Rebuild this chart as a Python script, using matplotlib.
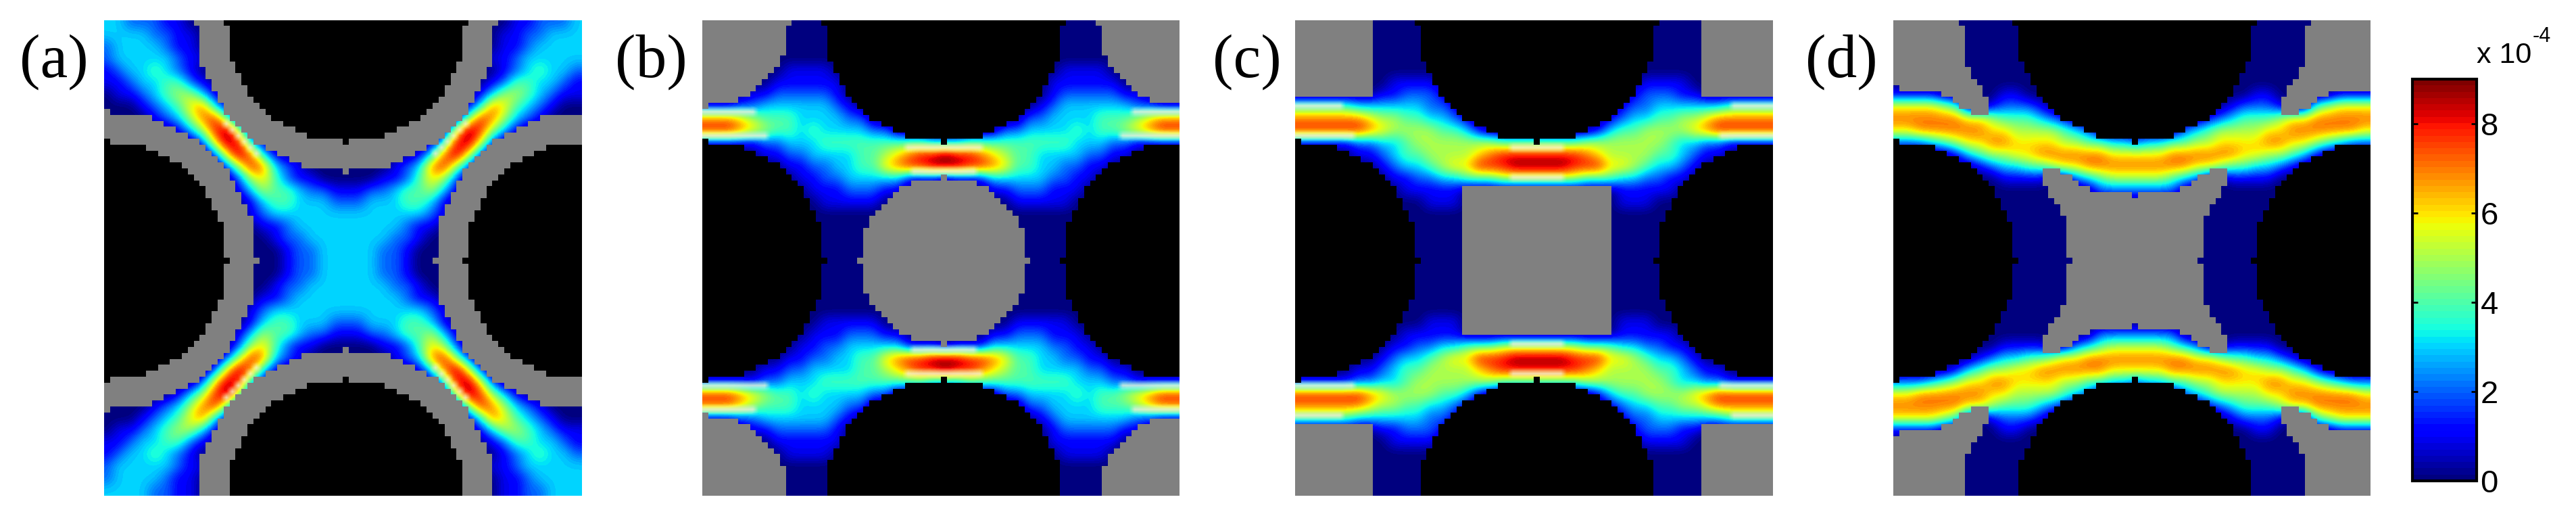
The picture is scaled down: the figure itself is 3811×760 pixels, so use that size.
#Four field maps (a)-(d) with one shared jet colorbar.
#Field values are read by eye on every second cell of the top-left quarter,
#in units of 1e-4, and mirrored to the whole 80x80 cell panel.

import numpy as np
import matplotlib
matplotlib.use('Agg')
import matplotlib.pyplot as plt
from matplotlib.colors import ListedColormap

panel_labels = ['(a)', '(b)', '(c)', '(d)']
colorbar_ticks = [0, 2, 4, 6, 8]

values_a = [
    '332221100000000000000', '333322110000000000000', '233332110000000000000',
    '233333211000000000000', '123343210000000000000', '112334421000000000000',
    '011234553100000000000', '000123467310000000000', '000012357841000000000',
    '000000135895100000000', '000000002698310000000', '000000000269731000000',
    '000000000025873210000', '000000000002564211000', '000000000001354432211',
    '000000000000134433322', '000000000000123333333', '000000000000011233333',
    '000000000000001223333', '000000000000000122333', '000000000000000122333',
]
values_b = [
    '000000000000000000000', '000000000000000000000', '000000000000000000000',
    '000000000000000000000', '000000011110000000000', '000000111111000000000',
    '000011222221000000000', '111223333332100000000', '777654443333220000000',
    '888765443433332200000', '111112233344444444433', '000001122333344567889',
    '000000011223344678899', '000000001122333331110', '000000000111222110000',
    '000000000011111000000', '000000000000000000000', '000000000000000000000',
    '000000000000000000000', '000000000000000000000', '000000000000000000000',
]
values_c = [
    '000000000000000000000', '000000000000000000000', '000000000000000000000',
    '000000000000000000000', '000000000000000000000', '000000001111000000000',
    '000000011222100000000', '444443333332210000000', '777777655443321000000',
    '888888765555443100000', '111112233455555554444', '000001123445555678888',
    '000000012334566888999', '000000001122334445555', '000000000111110000000',
    '000000000001110000000', '000000000000000000000', '000000000000000000000',
    '000000000000000000000', '000000000000000000000', '000000000000000000000',
]
values_d = [
    '000000000000000000000', '000000000000000000000', '000000000000000000000',
    '000000000000000000000', '000000000000000000000', '000000000000000000000',
    '111100000110000000000', '666654001222100000000', '777777665444321000000',
    '667777776655554320000', '222345667766665544332', '000001345566777777666',
    '000000012334456677777', '000000000111100234555', '000000000000000002222',
    '000000000000000000000', '000000000000000000000', '000000000000000000000',
    '000000000000000000000', '000000000000000000000', '000000000000000000000',
]

#half widths of the drawn shapes, row by row away from the shape centre (in cells)
hole_widths = [20, 19, 19, 19, 19, 19, 19, 18, 18, 17, 17, 16, 16, 15, 14, 13, 12, 10, 8, 6, 0]
ring_widths = [25, 24, 24, 24, 24, 24, 24, 24, 23, 23, 22, 22, 21, 21, 20, 20, 19, 18, 17, 16, 15, 13, 11, 9, 7, 0]
rod_widths = [14, 13, 13, 13, 13, 13, 12, 12, 11, 10, 9, 8, 7, 5, 0]
square_widths = [12] * 13
star_widths = [10, 11, 11, 11, 11, 11, 11, 11, 12, 12, 13, 14, 14, 15, 15, 15]

#pale stripes next to the hot spots: (row, first column, last column)
pale_a = [(17, 20, 20), (18, 21, 21), (19, 22, 22), (20, 23, 23), (21, 24, 24), (22, 25, 25)]
pale_b = [(15, 0, 8), (19, 0, 10), (21, 34, 40), (25, 35, 40)]
pale_c = [(14, 0, 7), (19, 0, 9), (21, 36, 40), (26, 36, 40)]
pale_d = []

N = 80
W, H = 3812, 760
GRAY = 1
BLACK = 2

plt.rcParams['font.family'] = ['Liberation Sans', 'DejaVu Sans']


def stamp(mask, row0, col0, widths, code):
    for dy, w in enumerate(widths):
        cols = np.arange(col0 - w, col0 + w + 1) % N
        mask[(row0 - dy) % N, cols] = code
        mask[(row0 + dy) % N, cols] = code


def stamp_star(mask, row0, col0, widths, code):
    for dy in range(len(widths)):
        for dx in range(len(widths)):
            if dx <= widths[dy] and dy <= widths[dx]:
                for sy in (-1, 1):
                    for sx in (-1, 1):
                        mask[(row0 + sy * dy) % N, (col0 + sx * dx) % N] = code


def add_holes(mask):
    stamp(mask, 0, 40, hole_widths, BLACK)
    stamp(mask, 40, 0, hole_widths, BLACK)


def full_values(rows):
    q = np.array([[int(ch) for ch in row] for row in rows], dtype=float)
    q = np.vstack([q, q[-2:0:-1]])
    return np.hstack([q, q[:, -2:0:-1]])


def px_axes(x0, y0, x1, y1):
    return fig.add_axes([x0 / W, 1 - y1 / H, (x1 - x0) / W, (y1 - y0) / H])


mask_a = np.zeros((N, N), dtype=int)
stamp(mask_a, 0, 40, ring_widths, GRAY)
stamp(mask_a, 40, 0, ring_widths, GRAY)
add_holes(mask_a)

mask_b = np.zeros((N, N), dtype=int)
stamp(mask_b, 40, 40, rod_widths, GRAY)
stamp(mask_b, 0, 0, rod_widths, GRAY)
add_holes(mask_b)

mask_c = np.zeros((N, N), dtype=int)
stamp(mask_c, 40, 40, square_widths, GRAY)
stamp(mask_c, 0, 0, square_widths, GRAY)
add_holes(mask_c)

mask_d = np.zeros((N, N), dtype=int)
stamp_star(mask_d, 40, 40, star_widths, GRAY)
stamp_star(mask_d, 0, 0, star_widths, GRAY)
add_holes(mask_d)

panels = [
    (values_a, mask_a, pale_a, (154, 30, 861, 733), 29),
    (values_b, mask_b, pale_b, (1039, 30, 1745, 733), 910),
    (values_c, mask_c, pale_c, (1916, 30, 2623, 733), 1794),
    (values_d, mask_d, pale_d, (2801, 30, 3507, 733), 2671),
]

jet = plt.get_cmap('jet', 64)
mask_cmap = ListedColormap(['#808080', '#000000'])

fig = plt.figure(figsize=(W / 100, H / 100), dpi=100)

for label, (rows, mask, pale, box, label_x) in zip(panel_labels, panels):
    ax = px_axes(*box)
    im = ax.imshow(full_values(rows), cmap=jet, vmin=0, vmax=9, interpolation='bicubic',
                   extent=(-0.5, N, N, -0.5), aspect='auto')

    #pale stripes, mirrored into all four quarters
    stripes = np.zeros((N, N, 4))
    stripes[..., :3] = (0.96, 0.93, 0.85)
    for row, c0, c1 in pale:
        for col in range(c0, c1 + 1):
            for r in (row, N - row):
                for c in (col, (N - col) % N):
                    stripes[r, c, 3] = 0.8
    ax.imshow(stripes, interpolation='bilinear', extent=(0, N, N, 0), aspect='auto')

    shapes = np.ma.masked_where(mask == 0, mask)
    ax.imshow(shapes, cmap=mask_cmap, vmin=GRAY, vmax=BLACK, interpolation='nearest',
              extent=(0, N, N, 0), aspect='auto')
    ax.set_xlim(0, N)
    ax.set_ylim(N, 0)
    ax.axis('off')

    fig.text(label_x / W, 1 - 114 / H, label, family='Liberation Serif', fontsize=66,
             ha='left', va='baseline', color='black')

cax = px_axes(3569, 117, 3664, 711)
cbar = fig.colorbar(im, cax=cax, ticks=colorbar_ticks)
cbar.outline.set_linewidth(3)
cax.tick_params(left=True, right=True, direction='in', length=6, width=2, labelsize=34, pad=4)

fig.text(3664 / W, 1 - 93 / H, 'x 10', fontsize=31, ha='left', va='baseline')
fig.text(3747 / W, 1 - 62 / H, '-4', fontsize=22, ha='left', va='baseline')

fig.savefig('out.png', dpi=100)
